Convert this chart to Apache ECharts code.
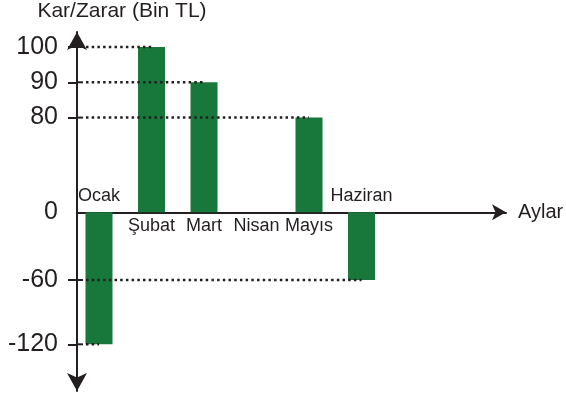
<!DOCTYPE html>
<html>
<head>
<meta charset="utf-8">
<script src="https://cdn.jsdelivr.net/npm/echarts@6/dist/echarts.min.js"></script>
<style>
html,body{margin:0;padding:0;background:#fff;}
#c{width:566px;height:403px;}
</style>
</head>
<body>
<div id="c"></div>
<script>
// ---- data ----
const months = ['Ocak', 'Şubat', 'Mart', 'Nisan', 'Mayıs', 'Haziran'];
const values = [-120, 100, 90, 0, 80, -60];
const yTickLabels = [100, 90, 80, 0, -60, -120];
const yTickMarks = [100, 90, 80, -60, -120];

const INK = '#231f20';
const GREEN = '#18783b';
const FONT = 'Liberation Sans, Arial, Helvetica, sans-serif';

const barData = values.map((v, i) => [i, v]);
const guideData = values.map((v, i) => [i, v]).filter(d => d[1] !== 0);
const labelData = values.map((v, i) => [i, v]);

const chart = echarts.init(document.getElementById('c'), null, {renderer: 'canvas'});
chart.setOption({
  animation: false,
  backgroundColor: '#fff',
  grid: {left: 77, right: 60, top: 32, bottom: 12, containLabel: false, outerBoundsMode: 'none'},
  xAxis: {
    type: 'value',
    min: -0.419,
    max: 7.752,
    axisLine: {show: true, onZero: true, lineStyle: {color: INK, width: 2},
      symbol: ['none', 'arrow'], symbolSize: [12, 14]},
    axisTick: {show: false},
    splitLine: {show: false},
    axisLabel: {show: false},
    name: 'Aylar',
    nameLocation: 'end',
    nameGap: 12,
    nameTextStyle: {fontSize: 20, fontFamily: FONT, color: INK}
  },
  yAxis: [{
    type: 'value',
    min: -133.23,
    max: 104.25,
    breaks: [
      {start: 8, end: 72, gap: 10.83},
      {start: -52, end: -8, gap: 3.18},
      {start: -112, end: -68, gap: 2.22}
    ],
    breakArea: {show: false},
    axisLine: {show: false, onZero: false},
    axisTick: {show: true, customValues: yTickMarks, length: 9, lineStyle: {color: INK, width: 2}},
    splitLine: {show: false},
    axisLabel: {
      customValues: yTickLabels,
      margin: 19,
      fontSize: 25, fontFamily: FONT, color: INK
    },
    name: 'Kar/Zarar (Bin TL)',
    nameLocation: 'end',
    nameGap: 10,
    nameTextStyle: {fontSize: 21, fontFamily: FONT, color: INK, align: 'center',
      verticalAlign: 'bottom', padding: [0, 0, 0, 90]}
  }, {
    // plain axis line with arrows at both ends
    type: 'value',
    position: 'left',
    min: 0,
    max: 1,
    axisLine: {show: true, onZero: false, lineStyle: {color: INK, width: 2},
      symbol: ['arrow', 'arrow'], symbolSize: [15, 18]},
    axisTick: {show: false},
    axisLabel: {show: false},
    splitLine: {show: false}
  }],
  series: [{
    type: 'bar',
    data: barData,
    barWidth: 27,
    itemStyle: {color: GREEN},
    z: 2
  }, {
    type: 'custom',
    data: guideData,
    z: 5,
    renderItem: function (params, api) {
      const p = api.coord([api.value(0), api.value(1)]);
      const x0 = params.coordSys.x;
      return {
        type: 'group',
        children: [{
          type: 'line',
          shape: {x1: x0, y1: p[1], x2: x0 + 6, y2: p[1]},
          style: {stroke: INK, lineWidth: 2}
        }, {
          type: 'line',
          shape: {x1: x0 + 9, y1: p[1], x2: p[0], y2: p[1]},
          style: {stroke: INK, lineWidth: 2.5, lineDash: [2.5, 3.2]}
        }]
      };
    }
  }, {
    // month names next to the zero line, on the side opposite to the bar
    type: 'custom',
    data: labelData,
    z: 6,
    renderItem: function (params, api) {
      const i = api.value(0);
      const v = api.value(1);
      const p = api.coord([i, 0]);
      return {
        type: 'text',
        x: p[0],
        y: p[1] + (v < 0 ? -16 : 14),
        style: {
          text: months[i],
          align: 'center',
          verticalAlign: 'middle',
          fontSize: 18,
          fontFamily: FONT,
          fill: INK
        }
      };
    }
  }]
});
</script>
</body>
</html>
